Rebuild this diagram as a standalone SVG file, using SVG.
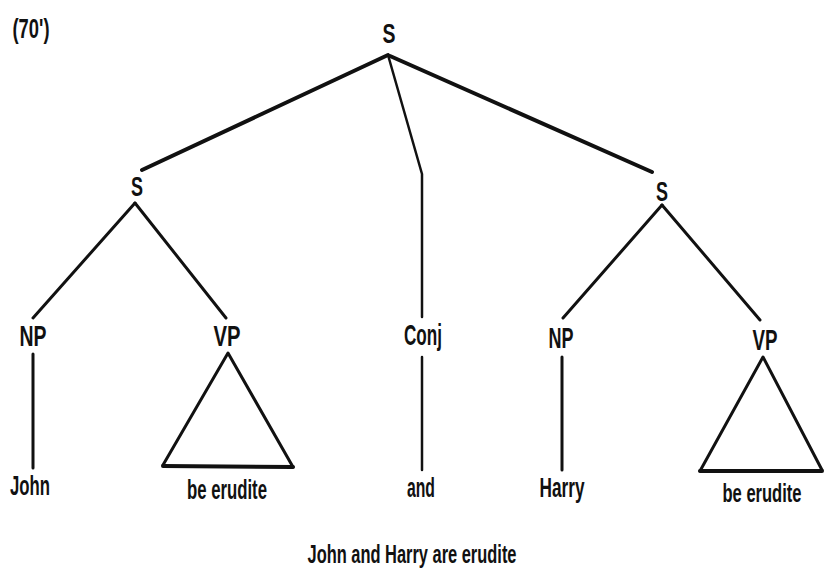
<svg xmlns="http://www.w3.org/2000/svg" width="825" height="571" viewBox="0 0 825 571">
<style>
text{font-family:"Liberation Sans",Arial,sans-serif;font-weight:bold;fill:#111;text-anchor:middle}
.lab{font-size:30px}
.s{font-size:28px}
.word{font-size:27px}
.sent{font-size:26px}
.e{stroke:#111;fill:none;stroke-linecap:round;stroke-linejoin:round}
.thick{stroke-width:4}
.med{stroke-width:3}
.thin{stroke-width:2.5}
</style>
<rect width="825" height="571" fill="#fff"/>
<text x="31" y="38" font-size="27" textLength="37" lengthAdjust="spacingAndGlyphs">(70')</text>
<g id="connectors">
<line class="e thick" x1="388" y1="55" x2="142" y2="170"/>
<polyline class="e thin" points="388,55 422,174 422,317"/>
<line class="e thick" x1="390" y1="56" x2="652" y2="172"/>
<line class="e med" x1="135" y1="203" x2="33" y2="318"/>
<line class="e med" x1="135" y1="203" x2="226" y2="318"/>
<line class="e med" x1="662" y1="205" x2="563" y2="318"/>
<line class="e med" x1="662" y1="205" x2="760" y2="320"/>
<line class="e med" x1="33" y1="354" x2="33" y2="468"/>
<line class="e thin" x1="422" y1="357" x2="422" y2="470"/>
<line class="e med" x1="562" y1="357" x2="562" y2="470"/>
</g>
<g id="S-root"><text class="s" x="389" y="43" textLength="13" lengthAdjust="spacingAndGlyphs">S</text></g>
<g id="S-left"><text class="s" x="137" y="196" textLength="12" lengthAdjust="spacingAndGlyphs">S</text></g>
<g id="S-right"><text class="s" x="662" y="201" textLength="12" lengthAdjust="spacingAndGlyphs">S</text></g>
<g id="NP-left"><text class="lab" x="33" y="346" textLength="27" lengthAdjust="spacingAndGlyphs">NP</text></g>
<g id="VP-left"><text class="lab" x="227" y="346" textLength="27" lengthAdjust="spacingAndGlyphs">VP</text></g>
<g id="Conj"><text class="lab" x="423" y="345" textLength="38" lengthAdjust="spacingAndGlyphs">Conj</text></g>
<g id="NP-right"><text class="lab" x="561" y="348" textLength="25" lengthAdjust="spacingAndGlyphs">NP</text></g>
<g id="VP-right"><text class="lab" x="765" y="350" textLength="25" lengthAdjust="spacingAndGlyphs">VP</text></g>
<g id="tri-left">
<polyline class="e med" points="163,465 228,353 293,467"/>
<line class="e thick" x1="163" y1="466" x2="293" y2="467"/>
</g>
<g id="tri-right">
<polyline class="e med" points="700,471 763,357 822,470"/>
<line class="e thick" x1="700" y1="471" x2="822" y2="471"/>
</g>
<g id="John"><text class="word" x="30" y="495" textLength="40" lengthAdjust="spacingAndGlyphs">John</text></g>
<g id="be-erudite-left"><text class="word" x="227" y="499" textLength="80" lengthAdjust="spacingAndGlyphs">be erudite</text></g>
<g id="and"><text class="word" x="421" y="497" textLength="28" lengthAdjust="spacingAndGlyphs">and</text></g>
<g id="Harry"><text class="word" x="562" y="497" textLength="45" lengthAdjust="spacingAndGlyphs">Harry</text></g>
<g id="be-erudite-right"><text transform="translate(762 502) scale(1 1.33)" x="0" y="0" font-size="20" textLength="79" lengthAdjust="spacingAndGlyphs">be erudite</text></g>
<text class="sent" x="412" y="563" textLength="209" lengthAdjust="spacingAndGlyphs">John and Harry are erudite</text>
</svg>
